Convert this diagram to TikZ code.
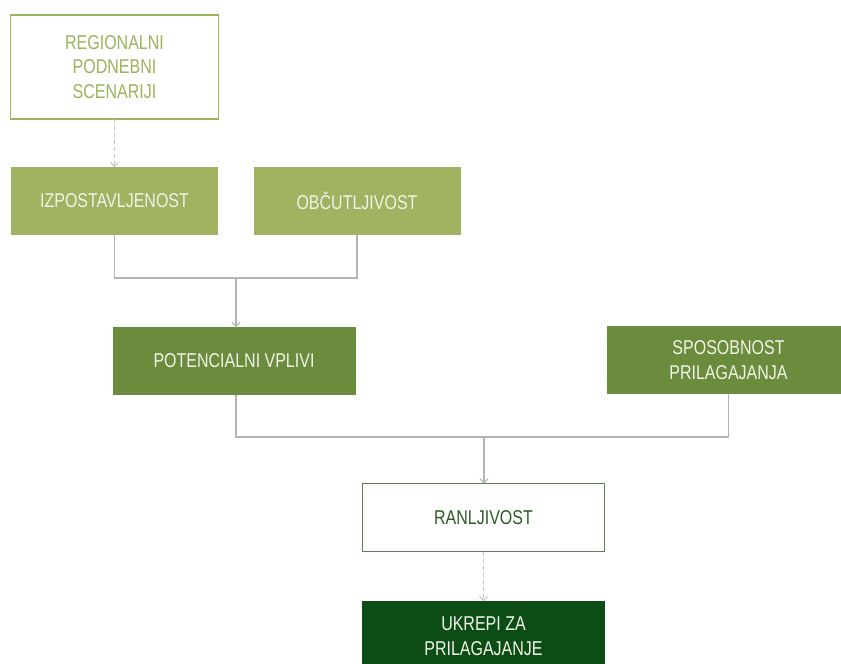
\documentclass[tikz,border=0pt]{standalone}
\usepackage{fontspec}
\setmainfont{Liberation Sans}[FakeStretch=0.8]
\usetikzlibrary{arrows.meta}
\definecolor{lgreen}{HTML}{9FB360}
\definecolor{ltext}{HTML}{9BB35C}
\definecolor{mgreen}{HTML}{6A8C3C}
\definecolor{rborder}{HTML}{5A8050}
\definecolor{rtext}{HTML}{2D5A27}
\definecolor{dgreen}{HTML}{0B4D15}
\definecolor{boxtext}{HTML}{F2F2E8}
\definecolor{conn}{HTML}{B4B4B4}
\definecolor{dconn}{HTML}{C4C4C4}
\tikzset{
  x=1pt, y=-1pt,
  box/.style={inner sep=0pt, outer sep=0pt, align=center, font=\fontsize{20}{24.5}\selectfont, text=boxtext},
  lightbox/.style={box, fill=lgreen, minimum width=207pt, minimum height=68pt},
  midbox/.style={box, fill=mgreen, minimum width=243pt, minimum height=68pt},
  outlinebox/.style={box, fill=white, draw=#1, line width=1.2pt},
  conline/.style={draw=conn, line width=1.5pt},
  dashline/.style={draw=dconn, line width=1pt, dashed, dash pattern=on 4pt off 3pt},
  tip/.style={-{Straight Barb[length=4pt,width=8pt,line width=1pt]}}
}
\begin{document}
\begin{tikzpicture}
\useasboundingbox (0,0) rectangle (841,664);
\fill[white] (0,0) rectangle (841,664);
\node[outlinebox=ltext, text=ltext, minimum width=208pt, minimum height=104pt] (reg) at (114.5,67) {REGIONALNI\\PODNEBNI\\SCENARIJI};
\node[lightbox] (izp) at (114.5,201) {IZPOSTAVLJENOST};
\node[lightbox] (obc) at (357,201) {OBČUTLJIVOST};
\node[midbox] (pot) at (234,361) {POTENCIALNI VPLIVI};
\node[midbox] (spo) at (728.5,360) {SPOSOBNOST\\PRILAGAJANJA};
\node[outlinebox=rborder, text=rtext, minimum width=242pt, minimum height=68pt] (ran) at (483.5,517.5) {RANLJIVOST};
\node[box, fill=dgreen, minimum width=243pt, minimum height=70pt] (ukr) at (483.5,636) {UKREPI ZA\\PRILAGAJANJE};
\coordinate (j1) at (236,278);
\coordinate (j2) at (484,437);
\draw[dashline, tip] (reg.south) -- (izp.north);
\draw[conline] (izp.south) |- (j1) -| (obc.south);
\draw[conline, tip] (j1) -- (j1 |- pot.north);
\draw[conline] (pot.south -| j1) |- (j2) -| (spo.south);
\draw[conline, tip] (j2) -- (j2 |- ran.north);
\draw[dashline, tip] (ran.south) -- (ukr.north);
\end{tikzpicture}
\end{document}
